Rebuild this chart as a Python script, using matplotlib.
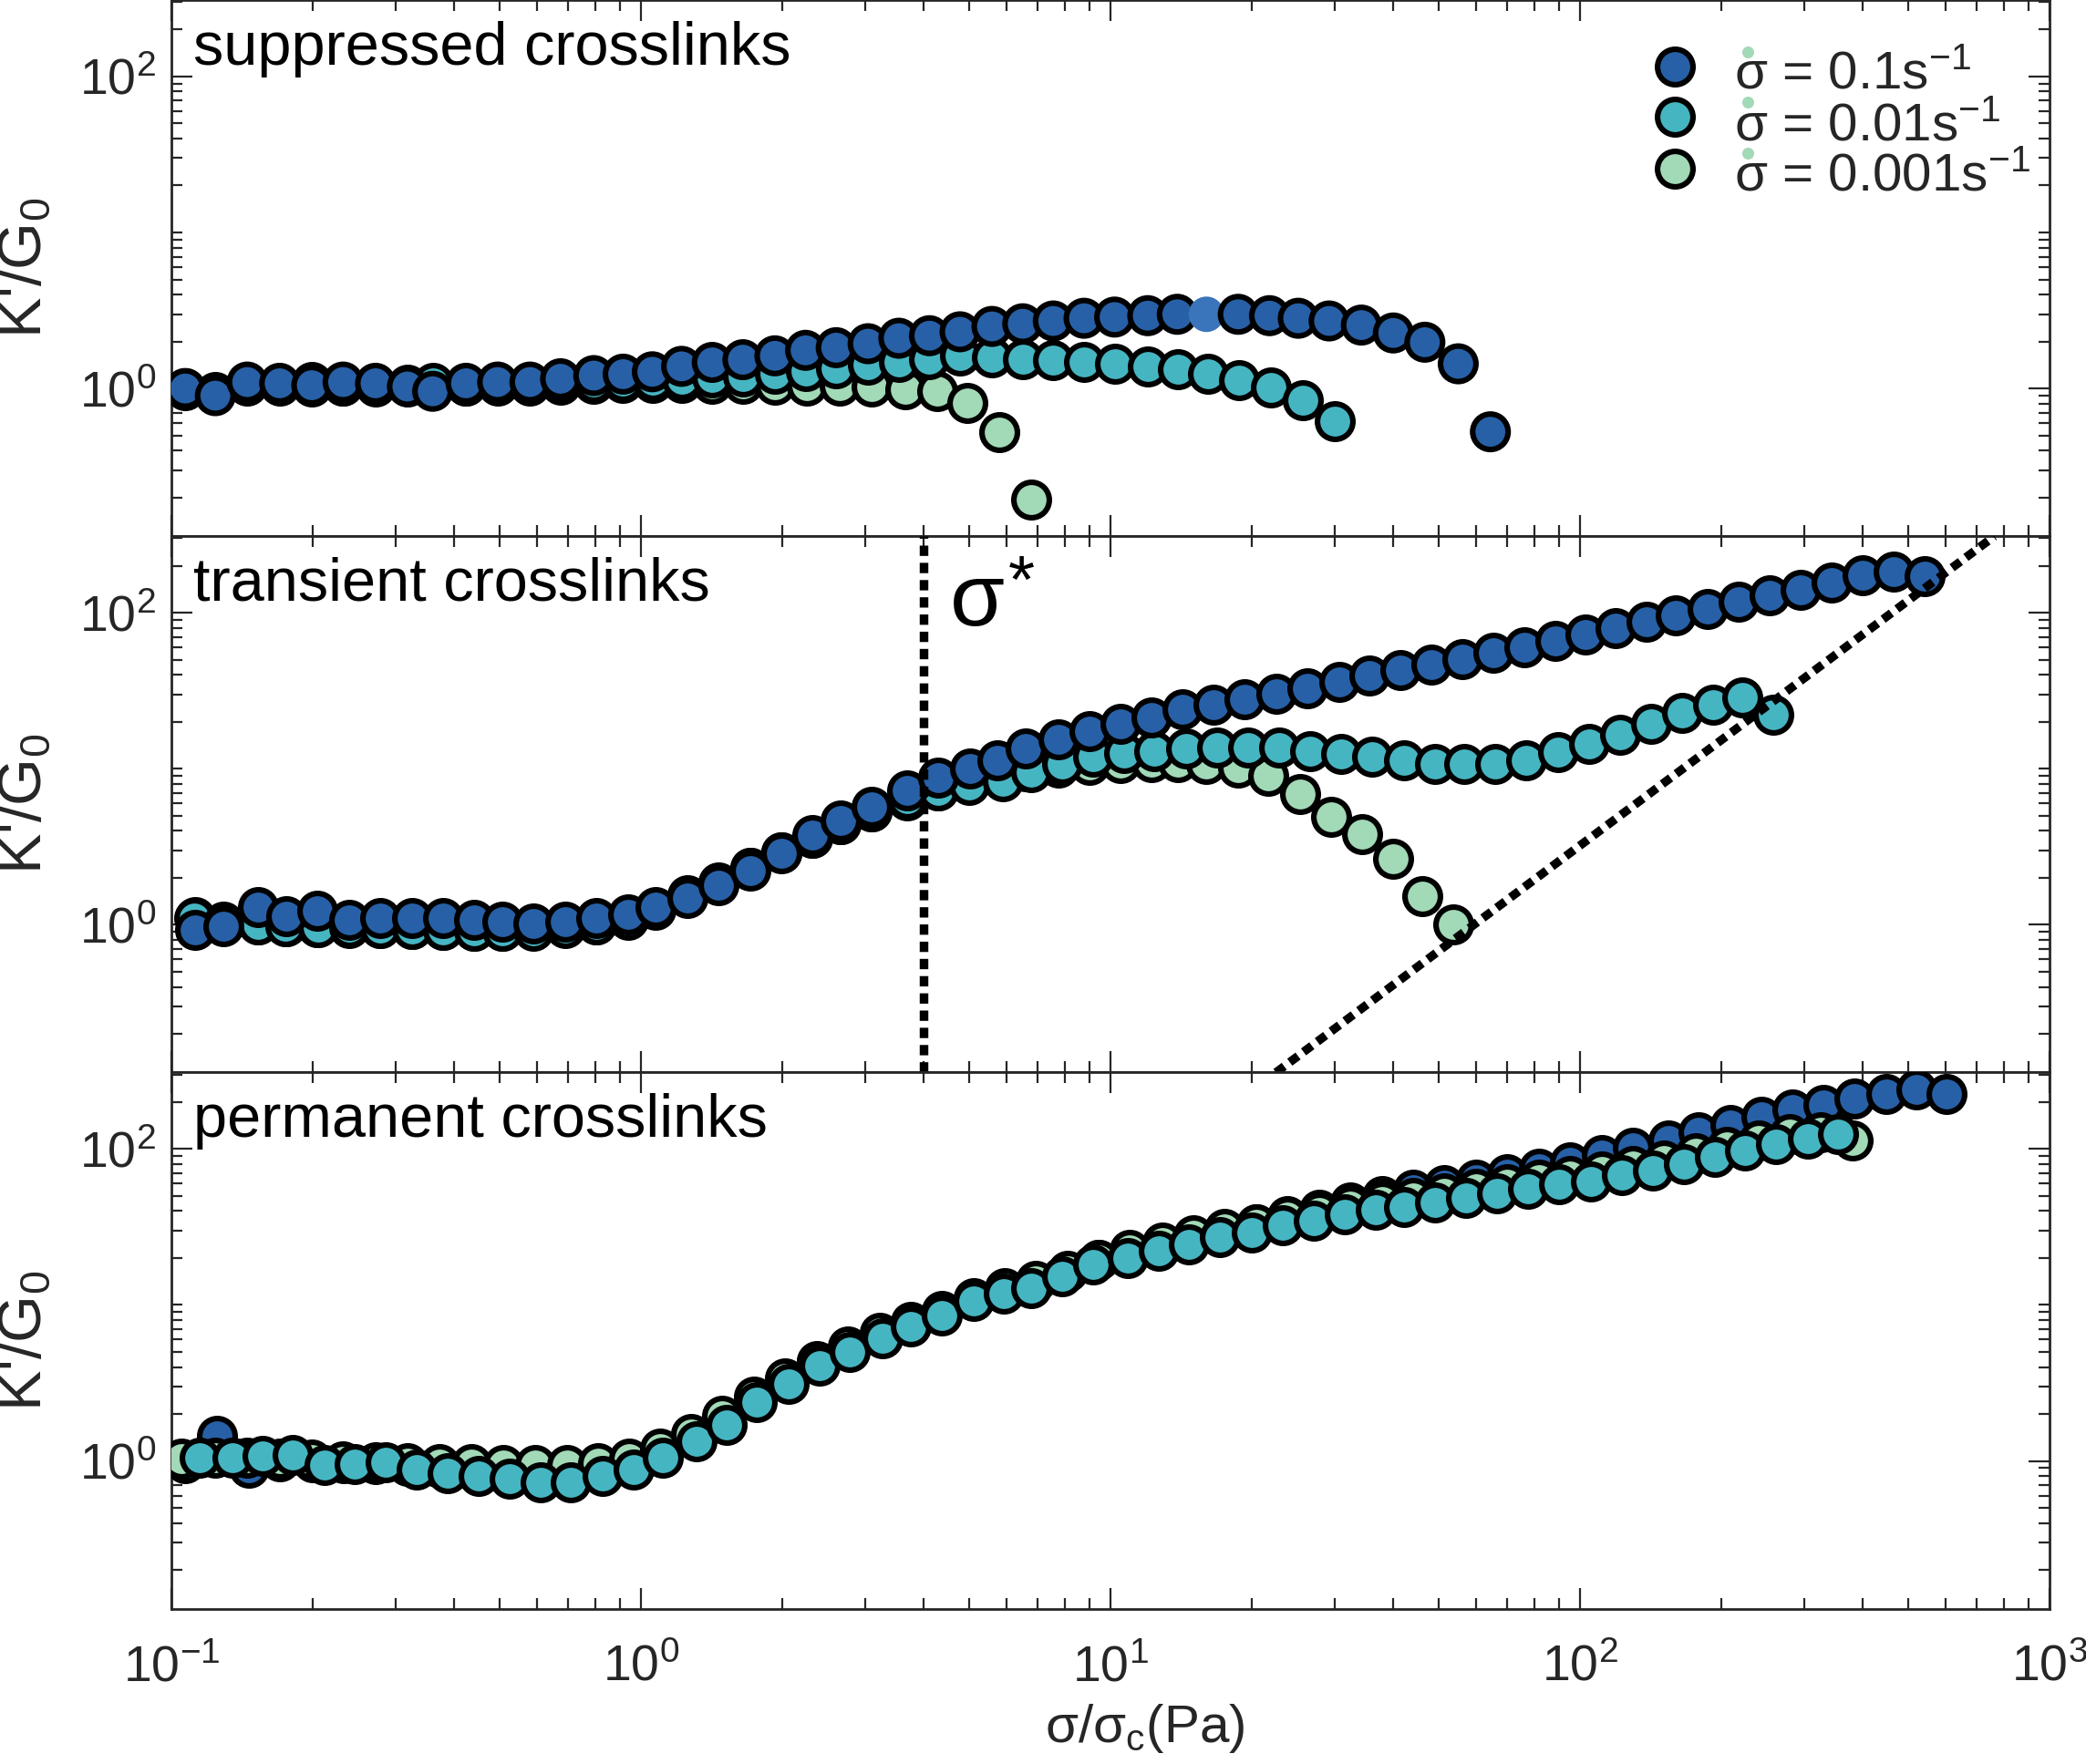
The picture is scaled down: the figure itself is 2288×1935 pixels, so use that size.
import numpy as np
import matplotlib
matplotlib.use('Agg')
import matplotlib.pyplot as plt
from matplotlib.ticker import LogLocator, FixedLocator, NullFormatter

plt.rcParams['font.family'] = ['Liberation Sans', 'DejaVu Sans']
plt.rcParams['mathtext.fontset'] = 'custom'
plt.rcParams['mathtext.rm'] = 'Liberation Sans'
plt.rcParams['mathtext.it'] = 'Liberation Sans:italic'
plt.rcParams['mathtext.bf'] = 'Liberation Sans:bold'

# ---- suppressed crosslinks (top) ----
sup_x_fast = [0.107, 0.124, 0.145, 0.170, 0.199, 0.232, 0.272, 0.318, 0.36, 0.424,
              0.495, 0.580, 0.674, 0.793, 0.916, 1.057, 1.22, 1.418, 1.648, 1.928,
              2.241, 2.604, 3.045, 3.54, 4.114, 4.779, 5.59, 6.50, 7.55, 8.78,
              10.2, 12.0, 13.87, 16.0, 18.7, 21.8, 25.1, 29.2, 34.2, 40.0,
              46.7, 55.0, 64.4]
sup_y_fast = [1.0, 0.90, 1.10, 1.08, 1.05, 1.10, 1.08, 1.03, 0.96, 1.08,
              1.10, 1.10, 1.155, 1.21, 1.236, 1.28, 1.387, 1.47, 1.53, 1.62,
              1.757, 1.827, 1.937, 2.1, 2.18, 2.31, 2.50, 2.60, 2.71, 2.82,
              2.87, 2.93, 2.99, 2.99, 2.99, 2.93, 2.82, 2.71, 2.55, 2.27,
              1.98, 1.44, 0.528]
sup_x_mid = [0.107, 0.124, 0.145, 0.170, 0.199, 0.232, 0.272, 0.318, 0.36, 0.424,
             0.495, 0.580, 0.674, 0.793, 0.916, 1.057, 1.22, 1.418, 1.648, 1.928,
             2.241, 2.604, 3.045, 3.54, 4.114, 4.779, 5.59, 6.50, 7.55, 8.78,
             10.2, 12.0, 13.9, 16.1, 18.8, 22.0, 25.7, 30.0]
sup_y_mid = [1.0, 0.95, 1.08, 1.06, 1.10, 1.05, 1.06, 1.06, 1.08, 1.04,
             1.06, 1.06, 1.08, 1.10, 1.12, 1.13, 1.15, 1.17, 1.2, 1.24,
             1.29, 1.35, 1.415, 1.48, 1.55, 1.62, 1.58, 1.55, 1.53, 1.49,
             1.446, 1.383, 1.323, 1.236, 1.129, 1.01, 0.842, 0.615]
sup_x_slow = [0.107, 0.124, 0.145, 0.17, 0.199, 0.232, 0.272, 0.318, 0.36, 0.424,
              0.495, 0.58, 0.674, 0.793, 0.916, 1.057, 1.22, 1.418, 1.648, 1.928,
              2.26, 2.65, 3.1, 3.66, 4.27, 4.95, 5.8, 6.76]
sup_y_slow = [0.98, 0.92, 1.05, 1.04, 1.03, 1.04, 1.03, 1.03, 1.0, 1.04,
              1.05, 1.05, 1.06, 1.07, 1.08, 1.08, 1.08, 1.07, 1.07, 1.06,
              1.05, 1.04, 1.03, 0.99, 0.96, 0.81, 0.525, 0.195]
odd_point = 33  # one point of the fast series drawn without edge

# ---- transient crosslinks (middle) ----
tr_x_fast = [0.1124, 0.129, 0.153, 0.1754, 0.2046, 0.2386, 0.2784, 0.3248, 0.3789, 0.4417,
             0.5067, 0.5909, 0.689, 0.804, 0.9376, 1.075, 1.254, 1.462, 1.706, 1.99,
             2.32, 2.66, 3.10, 3.68, 4.30, 5.01, 5.75, 6.6, 7.74, 9.01,
             10.5, 12.2, 14.2, 16.6, 19.3, 22.5, 26.2, 30.7, 35.5, 41.4,
             48.2, 56.1, 65.4, 76.1, 88.6, 102.5, 119, 138.6, 160, 186.7,
             217.5, 253.4, 295, 343.6, 400, 465.6, 542]
tr_y_fast = [0.923, 0.973, 1.30, 1.14, 1.236, 1.082, 1.111, 1.111, 1.111, 1.082,
             1.054, 1.026, 1.054, 1.111, 1.171, 1.302, 1.486, 1.79, 2.21, 2.88,
             3.75, 4.64, 5.73, 7.27, 8.75, 9.99, 11.4, 13.5, 15.5, 17.4,
             19.3, 21.3, 23.9, 25.9, 28.0, 30.3, 32.8, 36.1, 39.5, 42.8,
             46.3, 50.7, 55.7, 60.4, 66.0, 72.6, 79.4, 87.4, 95.7, 105.2,
             117, 128.6, 140.7, 156.4, 173.8, 183.4, 171]
tr_x_mid = [0.112, 0.129, 0.153, 0.175, 0.205, 0.239, 0.278, 0.325, 0.379, 0.442,
            0.507, 0.591, 0.689, 0.804, 0.938, 1.075, 1.254, 1.462, 1.706, 1.99,
            2.32, 2.66, 3.10, 3.68, 4.30, 5.0, 5.90, 6.76, 7.87, 9.16,
            10.67, 12.4, 14.5, 16.9, 19.6, 22.9, 26.6, 31.0, 36.1, 42.1,
            49.0, 56.7, 65.8, 76.9, 89.6, 104.3, 121.5, 141.5, 164.8, 191.9,
            221.3, 257.6]
tr_y_mid = [1.10, 1.03, 1.0, 0.98, 0.97, 0.96, 0.95, 0.94, 0.93, 0.92,
            0.91, 0.92, 0.95, 1.0, 1.08, 1.28, 1.55, 1.85, 2.3, 2.9,
            3.6, 4.4, 5.3, 6.4, 7.3, 7.9, 8.30, 9.47, 10.8, 12.0,
            12.6, 13.0, 13.4, 13.7, 13.7, 13.7, 13.0, 12.5, 12.0, 11.4,
            10.8, 10.8, 10.8, 11.4, 12.7, 14.5, 16.5, 19.3, 22.7, 25.9,
            28.8, 22.1]
tr_x_slow = [0.1124, 0.129, 0.153, 0.1754, 0.2046, 0.2386, 0.2784, 0.3248, 0.3789, 0.4417,
             0.5067, 0.5909, 0.689, 0.804, 0.9376, 1.075, 1.254, 1.462, 1.706, 1.99,
             2.32, 2.66, 3.10, 3.68, 4.30, 5.01, 5.75, 6.6, 7.74, 9.01,
             10.5, 12.2, 13.9, 16.0, 18.7, 21.7, 25.3, 29.5, 34.3, 40.0,
             46.1, 53.7]
tr_y_slow = [1.12, 1.04, 1.0, 0.98, 0.97, 0.95, 0.95, 0.94, 0.93, 0.92,
             0.92, 0.93, 0.96, 1.01, 1.09, 1.25, 1.5, 1.86, 2.3, 2.9,
             3.6, 4.4, 5.3, 6.3, 7.3, 8.2, 9.0, 9.7, 10.2, 10.6,
             10.9, 11.0, 11.0, 10.8, 10.15, 8.98, 6.89, 4.94, 3.79, 2.66,
             1.53, 1.0]
sigma_star = 4.0
guide_x = [22.5, 762]
guide_y = [0.113, 309]

# ---- permanent crosslinks (bottom) ----
pm_x_fast = [0.107, 0.125, 0.146, 0.17, 0.2, 0.233, 0.272, 0.318, 0.372, 0.435,
             0.51, 0.595, 0.695, 0.81, 0.945, 1.10, 1.28, 1.49, 1.74, 2.03,
             2.37, 2.76, 3.22, 3.75, 4.37, 5.1, 5.95, 6.94, 8.1, 9.45,
             11.0, 12.9, 15.0, 17.5, 20.4, 23.8, 27.8, 32.4, 37.8, 44.1,
             51.4, 60.0, 70.0, 81.6, 95.2, 111, 129.5, 154, 179, 209,
             243, 283.5, 330, 384, 448, 520, 603]
pm_y_fast = [0.97, 1.45, 0.90, 1.0, 0.98, 0.97, 0.96, 0.93, 0.9, 0.88,
             0.86, 0.85, 0.86, 0.9, 0.98, 1.15, 1.45, 1.85, 2.5, 3.3,
             4.3, 5.3, 6.4, 7.6, 9.0, 10.8, 12.5, 14.0, 16.4, 19.4,
             21.5, 24.5, 27.5, 30.5, 33, 37, 41, 45.5, 50, 55,
             59, 64, 69, 75, 82, 92, 102, 114, 128, 143,
             160, 179, 192, 210, 226, 240, 226]
pm_x_slow = [0.105, 0.124, 0.145, 0.17, 0.199, 0.232, 0.272, 0.318, 0.372, 0.435,
             0.51, 0.595, 0.695, 0.81, 0.945, 1.10, 1.28, 1.49, 1.74, 2.03,
             2.37, 2.76, 3.22, 3.75, 4.37, 5.1, 5.95, 6.94, 8.1, 9.45,
             11.0, 12.9, 15.0, 17.5, 20.4, 23.8, 27.8, 32.4, 37.8, 44.1,
             51.4, 60.0, 70.0, 81.6, 95.2, 111, 129.5, 151, 176, 205,
             240, 280, 326, 380]
pm_y_slow = [1.03, 1.05, 1.05, 1.04, 1.02, 1.0, 0.98, 0.97, 0.96, 0.95,
             0.94, 0.94, 0.94, 0.97, 1.04, 1.2, 1.5, 1.95, 2.6, 3.4,
             4.4, 5.4, 6.6, 7.8, 9.2, 11.0, 12.8, 14.3, 16.6, 19.5,
             22.6, 25.2, 27.9, 30.7, 33.0, 36.5, 39.2, 43.2, 46.1, 48.5,
             51.7, 55.4, 59.4, 63.6, 67.5, 71.7, 77.8, 84.6, 93.5, 103,
             114, 124, 128, 114]
pm_x_mid = [0.115, 0.135, 0.156, 0.181, 0.212, 0.246, 0.286, 0.333, 0.388, 0.452,
            0.525, 0.612, 0.71, 0.83, 0.963, 1.113, 1.311, 1.523, 1.765, 2.06,
            2.40, 2.78, 3.27, 3.75, 4.37, 5.10, 5.93, 6.76, 7.87, 9.16,
            10.86, 12.65, 14.7, 17.1, 20.0, 23.3, 27.1, 31.6, 36.7, 42.1,
            49.0, 57.1, 66.5, 77.4, 90.2, 105.5, 122.8, 142.9, 166.3, 193.6,
            224.6, 261.6, 305, 354]
pm_y_mid = [1.055, 1.055, 1.08, 1.10, 0.94, 0.96, 0.987, 0.88, 0.84, 0.805,
            0.77, 0.735, 0.735, 0.805, 0.88, 1.056, 1.338, 1.696, 2.38, 3.12,
            4.09, 5.01, 6.14, 7.27, 8.61, 10.6, 11.9, 12.9, 15.3, 18.1,
            20.1, 22.2, 24.6, 27.2, 29.2, 32.3, 34.5, 38.2, 40.9, 42.3,
            45.3, 48.4, 51.8, 55.5, 59.4, 62.2, 67.8, 73.2, 80.2, 88.9,
            97.3, 107, 116.6, 125]

rate_labels = ['σ = 0.1s$^{-1}$', 'σ = 0.01s$^{-1}$', 'σ = 0.001s$^{-1}$']
panel_titles = ['suppressed crosslinks', 'transient crosslinks', 'permanent crosslinks']

c_fast = '#2760a6'
c_mid = '#46b5c2'
c_slow = '#a2d9b7'
c_odd = '#3a74ba'
grey = '#262626'
MS = 14.0
EW = 2.2
dotted = (0, (1.2, 0.8))

fig = plt.figure(figsize=(11.44, 9.675), dpi=200)
ax_top = fig.add_axes([0.0822, 0.696, 0.9004, 0.304])
ax_mid = fig.add_axes([0.0822, 0.392, 0.9004, 0.304])
ax_bot = fig.add_axes([0.0822, 0.088, 0.9004, 0.304])


def dots(ax, x, y, color, z, faces=None, widths=None):
    ax.scatter(x, y, s=MS ** 2, c=faces if faces is not None else color,
               edgecolors='k', linewidths=widths if widths is not None else EW,
               zorder=z)


# top panel
dots(ax_top, sup_x_slow, sup_y_slow, c_slow, 3)
dots(ax_top, sup_x_mid, sup_y_mid, c_mid, 4)
faces = [c_fast] * len(sup_x_fast)
faces[odd_point] = c_odd
widths = [EW] * len(sup_x_fast)
widths[odd_point] = 0
dots(ax_top, sup_x_fast, sup_y_fast, c_fast, 5, faces, widths)

# middle panel
dots(ax_mid, tr_x_slow, tr_y_slow, c_slow, 3)
dots(ax_mid, tr_x_mid, tr_y_mid, c_mid, 4)
dots(ax_mid, tr_x_fast, tr_y_fast, c_fast, 5)
ax_mid.axvline(sigma_star, color='k', lw=3.4, ls=dotted, zorder=6)
ax_mid.plot(guide_x, guide_y, color='k', lw=3.4, ls=dotted, zorder=6)
ax_mid.text(4.55, 83, 'σ', fontsize=35, color='k', va='baseline', ha='left', zorder=7)
ax_mid.text(6.05, 240, '*', fontsize=27, color='k', va='top', ha='left', zorder=7)

# bottom panel
dots(ax_bot, pm_x_fast, pm_y_fast, c_fast, 3)
dots(ax_bot, pm_x_slow, pm_y_slow, c_slow, 4)
dots(ax_bot, pm_x_mid, pm_y_mid, c_mid, 5)

# legend drawn by hand (green dot over the sigma)
leg_y = [0.8754, 0.782, 0.6856]
txt_y = [0.8357, 0.7395, 0.646]
dot_y = [0.9037, 0.8102, 0.714]
for col, lab, my, ty, dy in zip([c_fast, c_mid, c_slow], rate_labels, leg_y, txt_y, dot_y):
    ax_top.scatter([0.8006], [my], s=MS ** 2, c=col, edgecolors='k', linewidths=EW,
                   transform=ax_top.transAxes, zorder=8, clip_on=False)
    ax_top.text(0.8319, ty, lab, transform=ax_top.transAxes, fontsize=21,
                color=grey, va='baseline', ha='left', zorder=8)
    ax_top.scatter([0.8392], [dy], s=22, c=c_slow, linewidths=0,
                   transform=ax_top.transAxes, zorder=9)

for ax, title in zip([ax_top, ax_mid, ax_bot], panel_titles):
    ax.set_xscale('log')
    ax.set_yscale('log')
    ax.set_xlim(0.1, 1000)
    ax.set_ylim(0.113, 309)
    ax.xaxis.set_major_locator(FixedLocator([0.1, 1, 10, 100, 1000]))
    ax.xaxis.set_minor_locator(LogLocator(base=10, subs=np.arange(2, 10), numticks=50))
    ax.xaxis.set_minor_formatter(NullFormatter())
    ax.yaxis.set_major_locator(FixedLocator([1, 100]))
    ax.yaxis.set_minor_locator(LogLocator(base=10, subs=np.arange(1, 10), numticks=50))
    ax.yaxis.set_minor_formatter(NullFormatter())
    ax.tick_params(which='both', direction='in', top=True, right=True,
                   color=grey, labelcolor=grey, width=0.8)
    ax.tick_params(which='major', length=8.3, labelsize=20)
    ax.tick_params(which='minor', length=4.3)
    ax.tick_params(axis='y', which='major', pad=6)
    ax.tick_params(axis='x', which='major', pad=14)
    for sp in ax.spines.values():
        sp.set_linewidth(1.0)
        sp.set_color(grey)
    ax.set_ylabel("K'/G$_{\\rm 0}$", fontsize=24, color=grey)
    ax.yaxis.set_label_coords(-0.063, 0.5)
    ax.text(0.0117, 0.88, title, transform=ax.transAxes, fontsize=24,
            color='k', va='baseline', ha='left', zorder=8)

ax_top.tick_params(labelbottom=False)
ax_mid.tick_params(labelbottom=False)
ax_bot.set_xlabel('σ/σ$_{\\rm c}$(Pa)', fontsize=21, color=grey, labelpad=4, x=0.518)

fig.savefig('out.png', dpi=200)
